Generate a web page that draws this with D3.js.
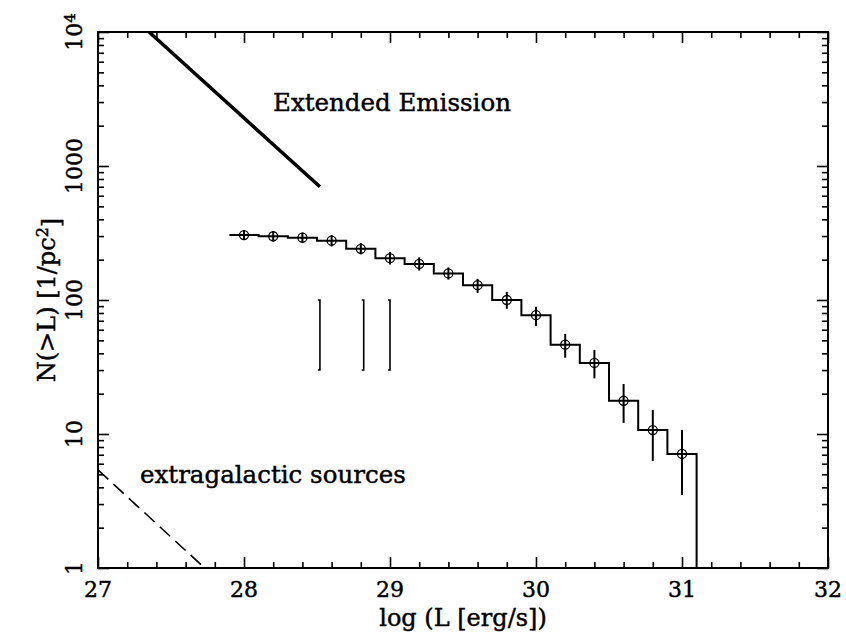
<!DOCTYPE html>
<html>
<head>
<meta charset="utf-8">
<script src="https://cdn.jsdelivr.net/npm/d3@7"></script>
<style>
  body { margin: 0; background: #fff; }
  svg { display: block; }
  text { font-family: "DejaVu Serif", serif; fill: #000; stroke: #000; stroke-width: 0.45px; }
</style>
</head>
<body>
<svg id="chart" width="846" height="635"></svg>
<script>
// log L bin centres and cumulative counts N(>L)
var logL  = [28.0, 28.2, 28.4, 28.6, 28.8, 29.0, 29.2, 29.4, 29.6, 29.8, 30.0, 30.2, 30.4, 30.6, 30.8, 31.0];
var nGtL  = [305, 299, 292, 277, 241, 205, 186, 158, 129, 100, 77, 46.4, 33.9, 17.7, 10.7, 7.1];
var errHi = [333, 327, 319, 306, 266, 228, 208, 175, 144, 115, 89, 55.8, 42.4, 23.6, 15.1, 10.7];
var errLo = [280, 273, 266, 251, 219, 184, 166, 142, 113, 86, 64, 37.1, 26, 12.1, 6.3, 3.5];
var binHalf = 0.1;
var histEnd = [31.1, 1];

// extended emission power law (thick line)
var extX = [27.35, 28.52];
var extY = [10000, 700];

// extragalactic sources (dashed)
var egX = [27.0, 27.73];
var egY = [5.4, 1];

// vertical markers
var markX  = [28.52, 28.82, 29.0];
var markY0 = 30, markY1 = 100;

// axes ticks
var xMajor = [27, 28, 29, 30, 31, 32];
var yMajor = [1, 10, 100, 1000, 10000];
var yLabels = ["1", "10", "100", "1000", "10^4"];

var svg = d3.select("#chart");

var x = d3.scaleLinear().domain([27, 32]).range([98, 828]);
var y = d3.scaleLog().domain([1, 10000]).range([568, 32]);

var x0 = x.range()[0], x1 = x.range()[1];
var yTop = y.range()[1], yBot = y.range()[0];

// minor ticks
var xMinor = d3.range(27, 32.001, 0.2).filter(function (v) { return Math.abs(v - Math.round(v)) > 1e-6; });
var yMinor = [];
yMajor.slice(0, -1).forEach(function (d) {
    for (var k = 2; k <= 9; k++) yMinor.push(d * k);
});

var g = svg.append("g");

// clip for data
svg.append("clipPath").attr("id", "clip")
    .append("rect").attr("x", x0).attr("y", yTop).attr("width", x1 - x0).attr("height", yBot - yTop);

var tickStyle = function (sel) {
    sel.select(".domain").remove();
    sel.selectAll(".tick line").attr("stroke", "#000").attr("stroke-width", 1.6);
    sel.selectAll(".tick text").remove();
};

// bottom / top
g.append("g").attr("transform", "translate(0," + yBot + ")")
    .call(d3.axisBottom(x).tickValues(xMinor).tickSize(-6)).call(tickStyle);
g.append("g").attr("transform", "translate(0," + yBot + ")")
    .call(d3.axisBottom(x).tickValues(xMajor).tickSize(-11)).call(tickStyle);
g.append("g").attr("transform", "translate(0," + yTop + ")")
    .call(d3.axisTop(x).tickValues(xMinor).tickSize(-6)).call(tickStyle);
g.append("g").attr("transform", "translate(0," + yTop + ")")
    .call(d3.axisTop(x).tickValues(xMajor).tickSize(-11)).call(tickStyle);

// left / right
g.append("g").attr("transform", "translate(" + x0 + ",0)")
    .call(d3.axisLeft(y).tickValues(yMinor).tickSize(-6)).call(tickStyle);
g.append("g").attr("transform", "translate(" + x0 + ",0)")
    .call(d3.axisLeft(y).tickValues(yMajor).tickSize(-11)).call(tickStyle);
g.append("g").attr("transform", "translate(" + x1 + ",0)")
    .call(d3.axisRight(y).tickValues(yMinor).tickSize(-6)).call(tickStyle);
g.append("g").attr("transform", "translate(" + x1 + ",0)")
    .call(d3.axisRight(y).tickValues(yMajor).tickSize(-11)).call(tickStyle);

// frame
g.append("rect")
    .attr("x", x0).attr("y", yTop)
    .attr("width", x1 - x0).attr("height", yBot - yTop)
    .attr("fill", "none").attr("stroke", "#000").attr("stroke-width", 2);

// x tick labels
g.selectAll("text.xlab")
    .data(xMajor)
    .enter()
    .append("text")
    .attr("class", "xlab")
    .attr("x", function (d) { return x(d); })
    .attr("y", 597)
    .attr("text-anchor", "middle")
    .style("font-size", "22px")
    .text(function (d) { return d; });

// y tick labels (rotated)
var ylab = g.selectAll("text.ylab")
    .data(yMajor)
    .enter()
    .append("text")
    .attr("class", "ylab")
    .attr("transform", function (d) { return "translate(82," + y(d) + ") rotate(-90)"; })
    .attr("text-anchor", "middle")
    .style("font-size", "22px");
ylab.each(function (d, i) {
    var t = d3.select(this);
    var lab = yLabels[i];
    if (lab.indexOf("^") > 0) {
        var parts = lab.split("^");
        t.append("tspan").text(parts[0]);
        t.append("tspan").attr("dy", "-0.45em").style("font-size", "15px").text(parts[1]);
    } else {
        t.text(lab);
    }
});

// axis titles
g.append("text")
    .attr("x", (x0 + x1) / 2)
    .attr("y", 626)
    .attr("text-anchor", "middle")
    .style("font-size", "24px")
    .text("log (L [erg/s])");

var yt = g.append("text")
    .attr("transform", "translate(55," + ((yTop + yBot) / 2) + ") rotate(-90)")
    .attr("text-anchor", "middle")
    .style("font-size", "24px");
yt.append("tspan").text("N(>L) [1/pc");
yt.append("tspan").attr("dy", "-0.45em").style("font-size", "16px").text("2");
yt.append("tspan").attr("dy", "0.45em").text("]");

// data layer
var data = g.append("g").attr("clip-path", "url(#clip)");

var line = d3.line()
    .x(function (d) { return x(d[0]); })
    .y(function (d) { return y(d[1]); });

// extended emission
data.append("path")
    .datum(d3.zip(extX, extY))
    .attr("d", line)
    .attr("fill", "none").attr("stroke", "#000").attr("stroke-width", 3.5);

// extragalactic
data.append("path")
    .datum(d3.zip(egX, egY))
    .attr("d", line)
    .attr("fill", "none").attr("stroke", "#000").attr("stroke-width", 1.6)
    .attr("stroke-dasharray", "14,7");

// histogram steps
var steps = logL.map(function (l, i) { return [l - binHalf, nGtL[i]]; });
steps.push(histEnd);
data.append("path")
    .datum(steps)
    .attr("d", line.curve(d3.curveStepAfter))
    .attr("fill", "none").attr("stroke", "#000").attr("stroke-width", 2);
line.curve(d3.curveLinear);

// error bars
data.selectAll("line.err")
    .data(logL)
    .enter()
    .append("line")
    .attr("class", "err")
    .attr("x1", function (d) { return x(d); })
    .attr("x2", function (d) { return x(d); })
    .attr("y1", function (d, i) { return y(errLo[i]); })
    .attr("y2", function (d, i) { return y(errHi[i]); })
    .attr("stroke", "#000").attr("stroke-width", 2);

// markers
data.selectAll("circle.pt")
    .data(logL)
    .enter()
    .append("circle")
    .attr("class", "pt")
    .attr("cx", function (d) { return x(d); })
    .attr("cy", function (d, i) { return y(nGtL[i]); })
    .attr("r", 4.5)
    .attr("fill", "none").attr("stroke", "#000").attr("stroke-width", 1.3);

// vertical marker lines with small end serifs
markX.forEach(function (m) {
    data.append("path")
        .attr("d", "M" + (x(m) - 2) + "," + y(markY1) + "H" + x(m) + "V" + y(markY0) + "H" + (x(m) - 2))
        .attr("fill", "none").attr("stroke", "#000").attr("stroke-width", 1.6);
});

// annotations
g.append("text")
    .attr("x", 273).attr("y", 111)
    .style("font-size", "24.5px")
    .text("Extended Emission");

g.append("text")
    .attr("x", 140).attr("y", 483)
    .style("font-size", "24.5px")
    .text("extragalactic sources");
</script>
</body>
</html>
